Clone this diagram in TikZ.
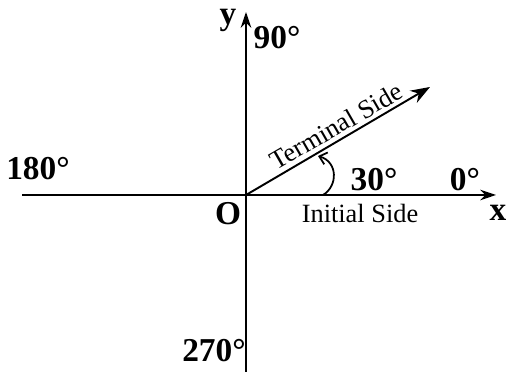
\documentclass[tikz,border=0pt]{standalone}
\usepackage{fontspec}
\setmainfont{Liberation Serif}
\usetikzlibrary{arrows.meta}

\begin{document}
\begin{tikzpicture}[x=0.02cm,y=-0.02cm,line width=1.1pt,
    big/.style={font=\fontsize{19}{19}\selectfont\bfseries},
    side/.style={font=\fontsize{15}{15}\selectfont}]
    \useasboundingbox (0,0) rectangle (508,374);

    % Origin and axis ends
    \coordinate (O) at (246,195);
    \coordinate (xl) at (22,195);
    \coordinate (xr) at (496,195);
    \coordinate (yt) at (246,12);
    \coordinate (yb) at (246,372);
    \coordinate (term) at (430,87);

    % Axes
    \draw[-{Stealth[length=9pt,width=6pt]}] (xl) -- (xr);
    \draw[-{Stealth[length=9pt,width=6pt]}] (yb) -- (yt);

    % Terminal side
    \draw[-{Stealth[length=11pt,width=8pt]}] (O) -- (term);

    % Angle arc
    \coordinate (a0) at (323,195);
    \coordinate (a1) at (318,156);
    \draw[line width=1pt,-{Straight Barb[length=4pt,width=7pt]}]
        (a0) .. controls (338,186) and (338,162) .. (a1);

    % Labels
    \node[big] (lx) at (498,213) {x};
    \node[big,inner sep=1pt] (ly) at (228,20) {y};
    \node[big] (lo) at (228,214) {O};
    \node[big] (l90) at (277,38) {90°};
    \node[big] (l180) at (38,169) {180°};
    \node[big] (l270) at (214,351) {270°};
    \node[big] (l0) at (465,180) {0°};
    \node[big] (l30) at (374,180) {30°};
    \node[side] (init) at (360,213) {Initial Side};
    \node[side,rotate=30] (termtxt) at (336,126) {Terminal Side};
\end{tikzpicture}
\end{document}
